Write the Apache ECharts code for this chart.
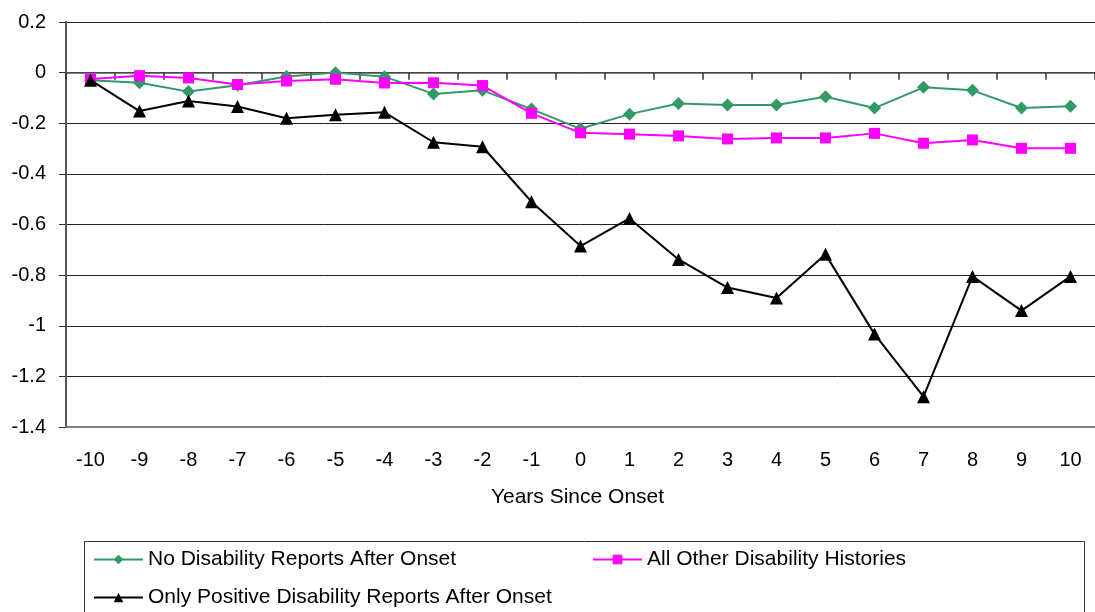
<!DOCTYPE html>
<html>
<head>
<meta charset="utf-8">
<script src="https://cdn.jsdelivr.net/npm/echarts@6/dist/echarts.min.js"></script>
<style>
  html, body { margin: 0; padding: 0; background: #fff; }
  #chart { width: 1095px; height: 612px; }
</style>
</head>
<body>
<div id="chart"></div>
<script>
// Years relative to onset of disability
const years = ['-10', '-9', '-8', '-7', '-6', '-5', '-4', '-3', '-2', '-1', '0',
               '1', '2', '3', '4', '5', '6', '7', '8', '9', '10'];

// Estimated change by disability-report history
const noReportsAfter = [-0.03, -0.04, -0.075, -0.05, -0.015, 0.0, -0.016, -0.084, -0.07, -0.144, -0.222,
                        -0.164, -0.122, -0.128, -0.128, -0.095, -0.14, -0.058, -0.07, -0.14, -0.133];
const allOther = [-0.025, -0.012, -0.021, -0.047, -0.033, -0.026, -0.041, -0.04, -0.051, -0.161, -0.238,
                  -0.243, -0.25, -0.262, -0.258, -0.258, -0.24, -0.279, -0.266, -0.299, -0.299];
const onlyPositive = [-0.03, -0.152, -0.112, -0.134, -0.18, -0.166, -0.157, -0.275, -0.293, -0.51, -0.685,
                      -0.576, -0.738, -0.849, -0.89, -0.718, -1.033, -1.28, -0.805, -0.94, -0.805];

const seriesNames = [
  'No Disability Reports After Onset',
  'All Other Disability Histories',
  'Only Positive Disability Reports After Onset'
];

const FONT = '"Liberation Sans", Arial, sans-serif';
const chart = echarts.init(document.getElementById('chart'), null, { renderer: 'canvas' });

const legendCommon = {
  orient: 'horizontal',
  padding: 0,
  itemWidth: 49,
  itemHeight: 12,
  itemGap: 0,
  textStyle: { fontFamily: FONT, fontSize: 21, color: '#000' }
};

chart.setOption({
  animation: false,
  backgroundColor: '#fff',
  grid: { left: 66, top: 22, height: 405, right: -10.5, containLabel: false },
  xAxis: [
    {
      type: 'category',
      data: years,
      position: 'bottom',
      axisLine: { onZero: false, show: true, lineStyle: { color: '#808080', width: 2 } },
      axisTick: { show: false },
      axisLabel: { margin: 23, fontFamily: FONT, fontSize: 20, color: '#000' },
      splitLine: { show: false }
    },
    {
      // zero line with category tick marks
      type: 'category',
      data: years,
      position: 'top',
      axisLine: { onZero: true, show: true, lineStyle: { color: '#555', width: 1.5 } },
      axisTick: { show: true, inside: true, length: 7, lineStyle: { color: '#333', width: 1.5 } },
      axisLabel: { show: false },
      splitLine: { show: false }
    }
  ],
  yAxis: {
    type: 'value',
    min: -1.4,
    max: 0.2,
    interval: 0.2,
    axisLine: { show: true, lineStyle: { color: '#555', width: 2 } },
    axisTick: { show: true, length: 7, lineStyle: { color: '#333', width: 1 } },
    axisLabel: {
      margin: 20,
      fontFamily: FONT,
      fontSize: 20,
      color: '#000',
      formatter: v => String(Math.round(v * 10) / 10)
    },
    splitLine: { show: true, lineStyle: { color: '#222', width: 1 } }
  },
  legend: [
    Object.assign({ data: [seriesNames[0]], left: 93, top: 549 }, legendCommon),
    Object.assign({ data: [seriesNames[1]], left: 592, top: 549 }, legendCommon),
    Object.assign({ data: [seriesNames[2]], left: 93, top: 587 }, legendCommon)
  ],
  graphic: [
    {
      type: 'rect',
      shape: { x: 84.5, y: 541.5, width: 1000, height: 100 },
      style: { fill: 'none', stroke: '#333', lineWidth: 1 },
      silent: true,
      z: -1
    },
    {
      type: 'text',
      x: 577.5,
      y: 497,
      style: {
        text: 'Years Since Onset',
        fontFamily: FONT,
        fontSize: 21,
        fill: '#000',
        textAlign: 'center',
        textVerticalAlign: 'middle'
      }
    }
  ],
  series: [
    {
      name: seriesNames[0],
      type: 'line',
      data: noReportsAfter,
      symbol: 'diamond',
      symbolSize: 13,
      showAllSymbol: true,
      lineStyle: { color: '#339966', width: 2 },
      itemStyle: { color: '#339966' },
      z: 2
    },
    {
      name: seriesNames[1],
      type: 'line',
      data: allOther,
      symbol: 'rect',
      symbolSize: 11,
      showAllSymbol: true,
      lineStyle: { color: '#ff00ff', width: 2 },
      itemStyle: { color: '#ff00ff' },
      z: 3
    },
    {
      name: seriesNames[2],
      type: 'line',
      data: onlyPositive,
      symbol: 'triangle',
      symbolSize: 13,
      showAllSymbol: true,
      lineStyle: { color: '#000', width: 2 },
      itemStyle: { color: '#000' },
      z: 4
    }
  ]
});
</script>
</body>
</html>
